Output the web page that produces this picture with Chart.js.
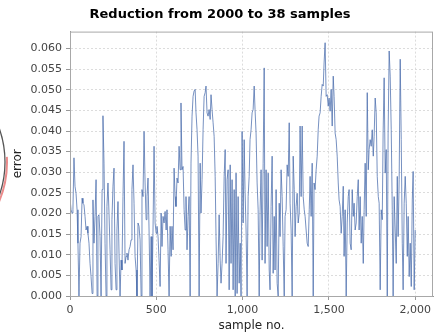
<!DOCTYPE html>
<html>
<head>
<meta charset="utf-8">
<script src="https://cdn.jsdelivr.net/npm/chart.js@4.4.0/dist/chart.umd.min.js"></script>
<style>
  html, body { margin: 0; padding: 0; background: #fff; }
</style>
</head>
<body>
<canvas id="grafica" width="440" height="335"></canvas>
<script>
const titulo = 'Reduction from 2000 to 38 samples';
const tituloX = 'sample no.';
const tituloY = 'error';

// error por muestra, un valor cada ~5.8 muestras (una columna de pixel)
const tramo1 = [0.0237, 0.0209, 0.0201, 0.0209, 0.0335, 0.0266, 0.0249, 0.0209, 0.0128, 0.0,
  0.0128, 0.0144, 0.0237, 0.0225, 0.0221, 0.0193, 0.0160, 0.0169, 0.0152, 0.0128,
  0.0079, 0.0047, 0.0006, 0.0233, 0.0128, 0.0193, 0.0282, 0.0, 0.0193, 0.0197,
  0.0144, 0.0, 0.0258, 0.0437, 0.0322, 0.0128, 0.0, 0.0217, 0.0274, 0.0201,
  0.0112, 0.0015, 0.0185, 0.0266, 0.0310, 0.0079, 0.0015, 0.0160, 0.0229, 0.0104,
  0.0, 0.0087, 0.0063, 0.0241, 0.0375, 0.0079];

const tramo2 = [0.0096, 0.0104, 0.0087, 0.0112, 0.0120, 0.0136, 0.0258, 0.0318, 0.0225, 0.0096,
  0.0063, 0.0, 0.0177, 0.0169, 0.0136, 0.0, 0.0258, 0.0241, 0.0399, 0.0274,
  0.0185, 0.0241, 0.0286, 0.0160, 0.0, 0.0144, 0.0, 0.0160, 0.0363, 0.0177,
  0.0152, 0.0169, 0.0144, 0.0087, 0.0023, 0.0201, 0.0120, 0.0193, 0.0177, 0.0205,
  0.0160, 0.0209, 0.0112, 0.0, 0.0169, 0.0096, 0.0169, 0.0112, 0.0310, 0.0241,
  0.0217, 0.0286, 0.0274, 0.0363, 0.0306, 0.0468, 0.0306, 0.0314];

const tramo3 = [0.0209, 0.0160, 0.0241, 0.0112, 0.0193, 0.0241, 0.0, 0.0322, 0.0436, 0.0484,
  0.0497, 0.0501, 0.0444, 0.0403, 0.0339, 0.0, 0.0322, 0.0201, 0.0282, 0.0403,
  0.0484, 0.0493, 0.0509, 0.0444, 0.0436, 0.0452, 0.0428, 0.0488, 0.0452, 0.0420,
  0.0387, 0.0290, 0.0144, 0.0, 0.0079, 0.0197, 0.0087, 0.0031, 0.0079, 0.0144,
  0.0290, 0.0355, 0.0079, 0.0282, 0.0306, 0.0015, 0.0318, 0.0079, 0.0282, 0.0015,
  0.0258, 0.0, 0.0298, 0.0006, 0.0241, 0.0031, 0.0128, 0.0];

const tramo4 = [0.0399, 0.0177, 0.0379, 0.0258, 0.0160, 0.0, 0.0241, 0.0290, 0.0379, 0.0403,
  0.0444, 0.0452, 0.0509, 0.0452, 0.0395, 0.0274, 0.0209, 0.0, 0.0201, 0.0306,
  0.0087, 0.0322, 0.0553, 0.0079, 0.0306, 0.0120, 0.0298, 0.0063, 0.0015, 0.0217,
  0.0339, 0.0055, 0.0193, 0.0063, 0.0258, 0.0031, 0.0, 0.0225, 0.0144, 0.0306,
  0.0241, 0.0120, 0.0, 0.0193, 0.0209, 0.0318, 0.0290, 0.0420, 0.0225, 0.0160,
  0.0, 0.0339, 0.0258, 0.0144, 0.0217, 0.0249, 0.0177, 0.0201];

const tramo5 = [0.0412, 0.0241, 0.0412, 0.0241, 0.0209, 0.0193, 0.0160, 0.0128, 0.0120, 0.0209,
  0.0290, 0.0193, 0.0322, 0.0, 0.0274, 0.0258, 0.0306, 0.0339, 0.0403, 0.0436,
  0.0444, 0.0484, 0.0513, 0.0509, 0.0565, 0.0614, 0.0484, 0.0488, 0.0460, 0.0480,
  0.0448, 0.0501, 0.0412, 0.0533, 0.0484, 0.0395, 0.0379, 0.0339, 0.0274, 0.0233,
  0.0217, 0.0152, 0.0193, 0.0266, 0.0096, 0.0209, 0.0, 0.0177, 0.0241, 0.0258,
  0.0128, 0.0112, 0.0258, 0.0193, 0.0225, 0.0160, 0.0177, 0.0241];

const tramo6 = [0.0282, 0.0160, 0.0241, 0.0128, 0.0193, 0.0079, 0.0209, 0.0322, 0.0193, 0.0493,
  0.0306, 0.0355, 0.0379, 0.0363, 0.0403, 0.0339, 0.0387, 0.0480, 0.0444, 0.0290,
  0.0241, 0.0225, 0.0015, 0.0209, 0.0185, 0.0395, 0.0529, 0.0298, 0.0355, 0.0,
  0.0395, 0.0594, 0.0533, 0.0403, 0.0209, 0.0, 0.0241, 0.0160, 0.0079, 0.0290,
  0.0144, 0.0282, 0.0574, 0.0379, 0.0128, 0.0015, 0.0225, 0.0290, 0.0225, 0.0096,
  0.0193, 0.0047, 0.0128, 0.0023, 0.0233, 0.0302, 0.0015, 0.0160];

const ticksX = [0, 500, 1000, 1500, 2000];
const ticksY = [0, 0.005, 0.010, 0.015, 0.020, 0.025, 0.030, 0.035, 0.040, 0.045, 0.050, 0.055, 0.060];

const errores = [...tramo1, ...tramo2, ...tramo3, ...tramo4, ...tramo5, ...tramo6];
const pasoMuestra = 2000 / (errores.length - 1);
const puntos = errores.map((v, i) => ({ x: Math.round(i * pasoMuestra), y: v }));

const fuente = 'DejaVu Sans';

// marco gris alrededor del area de la grafica + el arco cortado del borde izquierdo
const marco = {
  id: 'marco',
  beforeDraw(chart) {
    const c = chart.ctx;
    c.save();
    c.lineWidth = 2;
    c.strokeStyle = 'rgba(230,110,110,0.8)';
    c.beginPath();
    c.arc(-96, 162, 103, -0.05, 0.45);
    c.stroke();
    c.lineWidth = 1.3;
    c.strokeStyle = '#555';
    c.beginPath();
    c.arc(-96, 162, 101, -0.45, 0.45);
    c.stroke();
    c.restore();
  },
  afterDraw(chart) {
    const { left, top, right, bottom } = chart.chartArea;
    const c = chart.ctx;
    c.save();
    c.strokeStyle = '#a8a8a8';
    c.lineWidth = 1;
    c.strokeRect(left + 0.5, top + 0.5, right - left - 1, bottom - top);
    c.restore();
  }
};

new Chart(document.getElementById('grafica'), {
  type: 'line',
  data: {
    datasets: [{
      label: tituloY,
      data: puntos,
      borderColor: 'rgba(74,108,172,0.75)',
      borderWidth: 1,
      pointRadius: 0,
      tension: 0,
      fill: false
    }]
  },
  options: {
    responsive: false,
    animation: false,
    parsing: false,
    layout: { padding: { left: 7, right: 7, top: 0, bottom: 0 } },
    plugins: {
      legend: { display: false },
      tooltip: { enabled: false },
      title: {
        display: true,
        text: titulo,
        color: '#000',
        font: { family: fuente, size: 13, weight: 'bold' },
        padding: { top: 7, bottom: 9 }
      }
    },
    scales: {
      x: {
        type: 'linear',
        min: 0,
        max: 2103,
        afterFit: (s) => { s.height = 39; },
        afterBuildTicks: (s) => { s.ticks = ticksX.map(v => ({ value: v })); },
        ticks: {
          color: '#444',
          font: { family: fuente, size: 11 },
          padding: 4,
          maxRotation: 0,
          callback: (v) => v.toLocaleString('en-US')
        },
        grid: { color: '#dcdcdc', tickColor: '#999', tickLength: 4, tickBorderDash: [] },
        border: { display: true, color: '#999', dash: [2, 2] },
        title: { display: true, text: tituloX, color: '#222', font: { family: fuente, size: 12 }, padding: { top: 0, bottom: 2 } }
      },
      y: {
        min: 0,
        max: 0.0641,
        afterFit: (s) => { s.width = 63; },
        afterBuildTicks: (s) => { s.ticks = ticksY.map(v => ({ value: v })); },
        ticks: {
          color: '#444',
          font: { family: fuente, size: 11 },
          padding: 4,
          callback: (v) => v.toFixed(3)
        },
        grid: { color: '#dcdcdc', tickColor: '#999', tickLength: 4, tickBorderDash: [] },
        border: { display: true, color: '#999', dash: [2, 2] },
        title: { display: true, text: tituloY, color: '#222', font: { family: fuente, size: 12 }, padding: { top: 4, bottom: 0 } }
      }
    }
  },
  plugins: [marco]
});
</script>
</body>
</html>
